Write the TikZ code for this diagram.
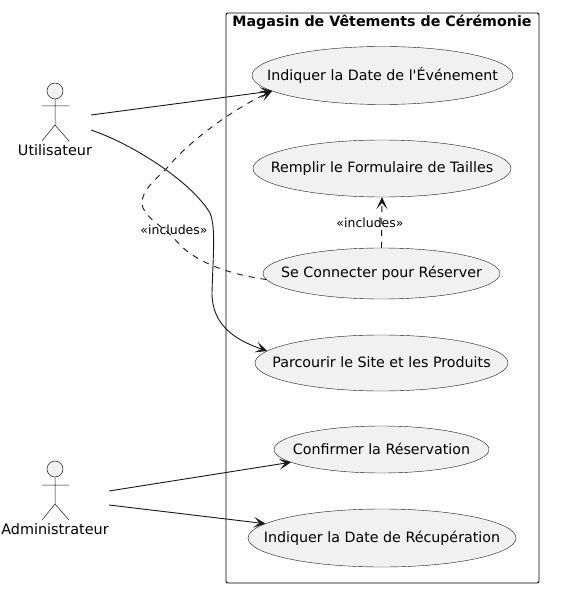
\documentclass[tikz,border=0pt]{standalone}
\usepackage{fontspec}
\setmainfont{DejaVu Sans}
\newfontfamily\plainq{DejaVu Sans}
\usetikzlibrary{shapes.geometric,arrows.meta}
\definecolor{ucfill}{HTML}{F1F1F1}
\definecolor{ucline}{HTML}{181818}
\newcommand{\uctext}[1]{\makebox[0pt][c]{\raisebox{1.5pt}{#1}}}
\tikzset{
  x=1pt,y=-1pt,
  usecase/.style={ellipse,draw=ucline,line width=0.4pt,fill=ucfill,inner sep=0pt,outer sep=0pt,font=\fontsize{14.25}{16}\selectfont,text=black},
  actorlabel/.style={inner sep=0pt,font=\fontsize{14.4}{16}\selectfont,text=black},
  actorline/.style={draw=ucline,line width=0.5pt},
  conn/.style={draw=ucline,line width=0.9pt,-{Stealth[length=12pt,width=11pt,inset=6pt]}},
  incl/.style={conn,dash pattern=on 6pt off 6pt},
  incllabel/.style={inner sep=0pt,font=\fontsize{12.5}{14}\selectfont,text=black},
  sysbox/.style={draw=black,line width=0.9pt,rounded corners=2pt},
  systitle/.style={inner sep=0pt,font=\fontsize{14.25}{16}\selectfont\bfseries,text=black}
}
\begin{document}
\begin{tikzpicture}
\useasboundingbox (0,0) rectangle (572,593);
\draw[sysbox] (226,13) rectangle (539,583);
\node[systitle] (title) at (382,22) {Magasin de Vêtements de Cérémonie};
\node[usecase,minimum width=261pt,minimum height=58pt] (e1) at (382.5,75.5) {\uctext{Indiquer la Date de l{\plainq '}Événement}};
\node[usecase,minimum width=258pt,minimum height=57pt] (e2) at (382,168.5) {\uctext{Remplir le Formulaire de Tailles}};
\node[usecase,minimum width=237pt,minimum height=51pt] (e3) at (381.5,273.5) {\uctext{Se Connecter pour Réserver}};
\node[usecase,minimum width=253pt,minimum height=56pt] (e4) at (381.5,363) {\uctext{Parcourir le Site et les Produits}};
\node[usecase,minimum width=215pt,minimum height=47pt] (e5) at (381.5,449.5) {\uctext{Confirmer la Réservation}};
\node[usecase,minimum width=268pt,minimum height=58pt] (e6) at (382,538) {\uctext{Indiquer la Date de Récupération}};
% actors
\node[circle,draw=ucline,line width=0.5pt,fill=ucfill,minimum size=16pt,inner sep=0pt] (h1) at (55,91) {};
\coordinate (hip1) at (55,125);
\draw[actorline] (h1.south) -- (hip1) (42,106) -- (69,106) (42,141) -- (hip1) -- (69,141);
\node[actorlabel] (u) at (55,150) {Utilisateur};
\node[circle,draw=ucline,line width=0.5pt,fill=ucfill,minimum size=16pt,inner sep=0pt] (h2) at (55,469) {};
\coordinate (hip2) at (55,504);
\draw[actorline] (h2.south) -- (hip2) (42,485) -- (69,485) (42,520) -- (hip2) -- (69,520);
\node[actorlabel] (a) at (55,529) {Administrateur};
\coordinate (u1) at (91,115);
\coordinate (u2) at (91,130);
\coordinate (a1) at (109,491);
\coordinate (a2) at (109,505);
% connectors
\draw[conn] (u1) -- (e1.188);
\draw[conn] (u2) .. controls (130,143) and (190,180) .. (210,213)
  .. controls (216,228) and (213,255) .. (212,293)
  .. controls (212,325) and (235,340) .. (e4.174);
\draw[incl] (e3.183) .. controls (228,274) and (192,262) .. (173,237)
  .. controls (160,225) and (142,215) .. (142,203)
  .. controls (142,190) and (155,180) .. (167,168)
  .. controls (190,140) and (235,108) .. (e1.188);
\draw[incl] (e3.north) -- (e2.south);
\draw[conn] (a1) -- (e5.188);
\draw[conn] (a2) -- (e6.173);
\node[incllabel] (l1) at (174,229.5) {«includes»};
\node[incllabel] (l2) at (370,222.5) {«includes»};
\end{tikzpicture}
\end{document}
